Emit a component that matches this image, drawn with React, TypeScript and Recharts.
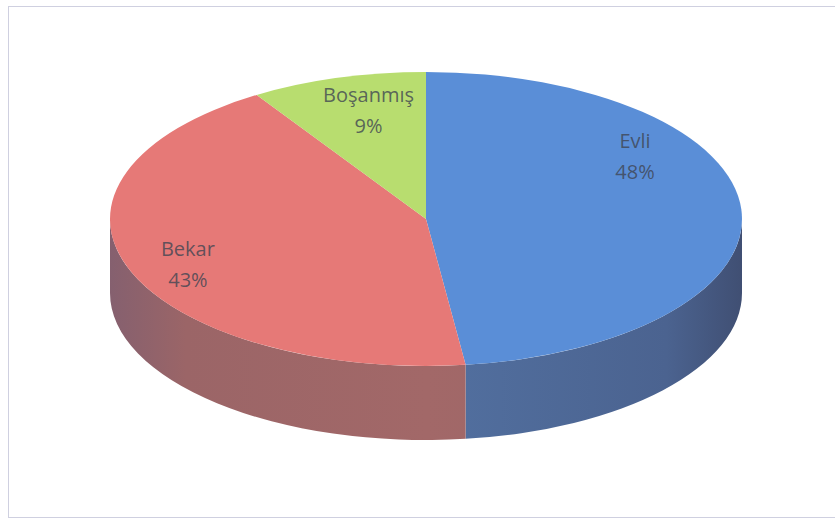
import { Pie, PieChart } from "recharts";

const names = ["Evli", "Bekar", "Boşanmış"];
const values = [48, 43, 9];
const topColors = ["#5a8ed7", "#e67977", "#b8dd6f"];
const sideColors = [
    ["#404f73", "#4b6390", "#5270a0"],
    ["#85606f", "#9b6567", "#a26868"],
    ["#7f9a4e", "#8fae58", "#97b85e"],
];

const data = names.map((name, i) => ({ name, value: values[i], color: topColors[i], side: sideColors[i] }));

const CX = 426;
const CY = 219;
const RX = 316;
const K = 147 / 316; // vertical squash of the ellipse
const DEPTH = 74;
// tweak label spots a bit, Excel's perspective puts them off the plain ellipse
const labelNudge = [[-18, -55], [-24, 11], [6, -6]];

const RAD = Math.PI / 180;

function pt(cx: number, cy: number, rx: number, ry: number, a: number) {
    return [cx + rx * Math.cos(a * RAD), cy - ry * Math.sin(a * RAD)];
}

function EllipseSector(props: any) {
    const { cx, cy, outerRadius, startAngle, endAngle, index } = props;
    const rx = outerRadius;
    const ry = outerRadius * K;
    const entry = data[index] ?? data[0];
    const [x1, y1] = pt(cx, cy, rx, ry, startAngle);
    const [x2, y2] = pt(cx, cy, rx, ry, endAngle);
    const large = Math.abs(startAngle - endAngle) > 180 ? 1 : 0;
    const sweep = startAngle > endAngle ? 1 : 0;
    const top = `M${cx},${cy} L${x1},${y1} A${rx},${ry} 0 ${large} ${sweep} ${x2},${y2} Z`;

    // front wall: the part of the arc lying in the lower half
    const lo = Math.min(startAngle, endAngle);
    const hi = Math.max(startAngle, endAngle);
    const walls: string[] = [];
    for (const base of [-540, -180, 180]) {
        const a = Math.max(lo, base);
        const b = Math.min(hi, base + 180);
        if (b - a > 0.01) {
            const [ax, ay] = pt(cx, cy, rx, ry, a);
            const [bx, by] = pt(cx, cy, rx, ry, b);
            walls.push(
                `M${ax},${ay} A${rx},${ry} 0 0 0 ${bx},${by} L${bx},${by + DEPTH} A${rx},${ry} 0 0 1 ${ax},${ay + DEPTH} Z`
            );
        }
    }
    const gid = `side-${index}`;
    return (
        <g>
            <defs>
                <linearGradient id={gid} gradientUnits="userSpaceOnUse" x1={cx - rx} y1={0} x2={cx + rx} y2={0}>
                    <stop offset="0" stopColor={entry.side[0]} />
                    <stop offset="0.12" stopColor={entry.side[1]} />
                    <stop offset="0.5" stopColor={entry.side[2]} />
                    <stop offset="0.88" stopColor={entry.side[1]} />
                    <stop offset="1" stopColor={entry.side[0]} />
                </linearGradient>
            </defs>
            {walls.map((d, i) => (
                <path key={i} d={d} fill={`url(#${gid})`} stroke="none" />
            ))}
            <path d={top} fill={entry.color} stroke="none" />
        </g>
    );
}

function renderLabel(props: any) {
    const { cx, cy, midAngle, outerRadius, percent, name, index } = props;
    const ry = outerRadius * K;
    const [bx, by] = pt(cx, cy, outerRadius * 0.72, ry * 0.72, midAngle);
    const [dx, dy] = labelNudge[index] ?? [0, 0];
    const x = bx + dx;
    const y = by + dy;
    return (
        <g>
            <text x={x} y={y - 15} textAnchor="middle" dominantBaseline="middle"
                fontFamily="'Open Sans', sans-serif" fontSize={20} fill="#3f4552" fillOpacity={0.8}>
                {name}
            </text>
            <text x={x} y={y + 16} textAnchor="middle" dominantBaseline="middle"
                fontFamily="'Open Sans', sans-serif" fontSize={20} fill="#3f4552" fillOpacity={0.8}>
                {`${Math.round(percent * 100)}%`}
            </text>
        </g>
    );
}

export default function App() {
    return (
        <div style={{ position: "absolute", left: 0, top: 0, width: 835, height: 527, background: "#fff", overflow: "hidden" }}>
            <div style={{
                position: "absolute", left: 8, top: 6, width: 840, height: 510,
                border: "1px solid #cfd0e0",
            }} />
            <div style={{ position: "absolute", left: 0, top: 0 }}>
                <PieChart width={835} height={527} margin={{ top: 0, right: 0, bottom: 0, left: 0 }}>
                    <Pie
                        data={data}
                        dataKey="value"
                        nameKey="name"
                        cx={CX}
                        cy={CY}
                        innerRadius={0}
                        outerRadius={RX}
                        startAngle={90}
                        endAngle={-270}
                        stroke="none"
                        shape={EllipseSector}
                        activeShape={EllipseSector}
                        inactiveShape={EllipseSector}
                        label={renderLabel}
                        labelLine={false}
                        isAnimationActive={false}
                    />
                </PieChart>
            </div>
        </div>
    );
}
